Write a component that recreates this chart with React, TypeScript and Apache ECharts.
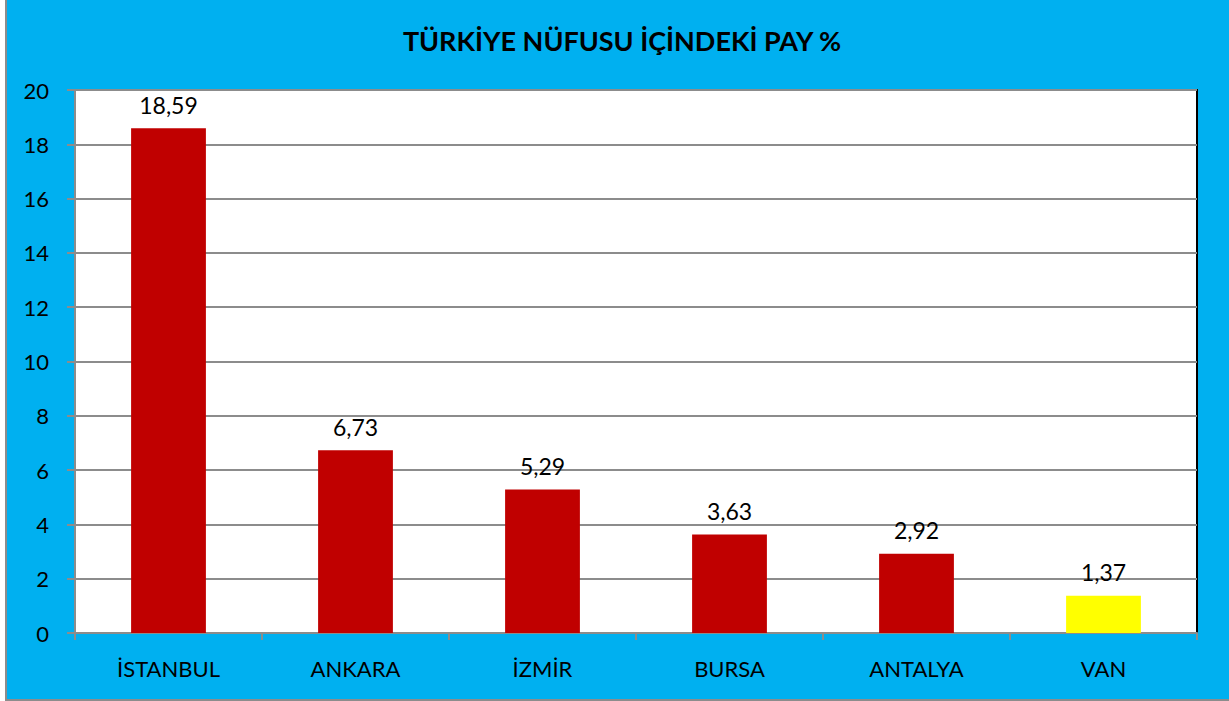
import React, { useEffect, useRef } from "react";
import * as echarts from "echarts";

const categories = ["İSTANBUL", "ANKARA", "İZMİR", "BURSA", "ANTALYA", "VAN"];
const values = [18.59, 6.73, 5.29, 3.63, 2.92, 1.37];
const barColors = ["#C00000", "#C00000", "#C00000", "#C00000", "#C00000", "#FFFF00"];
const titleText = "TÜRKİYE NÜFUSU İÇİNDEKİ PAY %";

const FONT = "Lato";

export default function App() {
  const ref = useRef<HTMLDivElement>(null);
  useEffect(() => {
    if (!ref.current) return;
    const chart = echarts.init(ref.current, null, { renderer: "svg" });
    chart.setOption({
      animation: false,
      backgroundColor: "#FFFFFF",
      graphic: [
        {
          type: "rect",
          z: -10,
          silent: true,
          shape: { x: 6, y: -2, width: 1230, height: 702 },
          style: { fill: "#00B0F0", stroke: "#8C8C8C", lineWidth: 2 },
        },
      ],
      title: {
        text: titleText,
        left: 617,
        textAlign: "center",
        top: 22,
        textStyle: { fontFamily: FONT, fontWeight: "bold", fontSize: 27, color: "#000" },
      },
      grid: {
        left: 75,
        right: 32,
        top: 90,
        bottom: 68,
        show: true,
        backgroundColor: "#FFFFFF",
        borderColor: "#000000",
        borderWidth: 2,
      },
      xAxis: {
        type: "category",
        data: categories,
        axisLine: { lineStyle: { color: "#8C8C8C", width: 2 } },
        axisTick: { show: true, alignWithLabel: false, length: 7, lineStyle: { color: "#8C8C8C", width: 2 } },
        axisLabel: { fontFamily: FONT, fontSize: 22, color: "#000", margin: 24 },
      },
      yAxis: {
        type: "value",
        min: 0,
        max: 20,
        interval: 2,
        axisLine: { show: true, lineStyle: { color: "#8C8C8C", width: 2 } },
        axisTick: { show: true, length: 8, lineStyle: { color: "#8C8C8C", width: 2 } },
        axisLabel: { fontFamily: FONT, fontSize: 22, color: "#000", margin: 26 },
        splitLine: { lineStyle: { color: "#8C8C8C", width: 2 } },
      },
      series: [
        {
          type: "bar",
          data: values.map((v, i) => ({ value: v, itemStyle: { color: barColors[i] } })),
          barWidth: "40%",
          label: {
            show: true,
            position: "top",
            distance: 12,
            fontFamily: FONT,
            fontSize: 23,
            color: "#000",
            formatter: (p: any) => p.value.toFixed(2).replace(".", ","),
          },
        },
      ],
    });
    return () => chart.dispose();
  }, []);
  return (
    <div
      ref={ref}
      style={{ position: "absolute", left: 0, top: 0, width: 1229, height: 701 }}
    />
  );
}
